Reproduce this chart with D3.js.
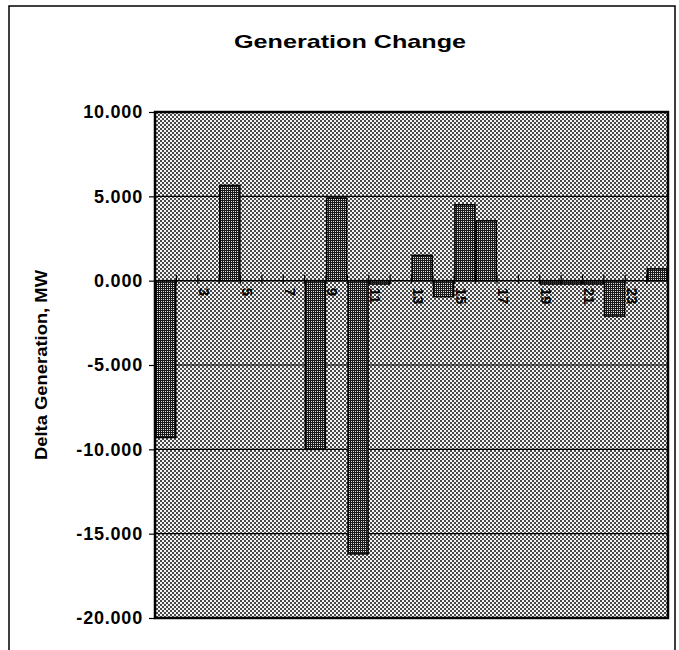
<!DOCTYPE html>
<html>
<head>
<meta charset="utf-8">
<script src="https://cdn.jsdelivr.net/npm/d3@7"></script>
<style>
  body { margin: 0; background: #fff; }
  svg { display: block; font-family: "Liberation Sans", Arial, sans-serif; }
</style>
</head>
<body>
<div id="chart"></div>
<script>
// hours 1..24
const hours = d3.range(1, 25);
const deltaMW = [-9.3, 0, 0, 5.65, 0, 0, 0, -10.0, 4.9, -16.2, -0.2, 0,
                 1.5, -0.95, 4.5, 3.55, 0, 0, -0.2, -0.2, -0.2, -2.1, 0, 0.7];
const yTicks = [10, 5, 0, -5, -10, -15, -20];
const xLabels = hours.filter(h => h % 2 === 1);

const width = 679, height = 650;
const plot = { left: 155, right: 668, top: 112, bottom: 618 };

const svg = d3.select("#chart").append("svg")
    .attr("width", width)
    .attr("height", height);

const defs = svg.append("defs");

// halftone checker for the plot area
const bg = defs.append("pattern")
    .attr("id", "bgPat")
    .attr("patternUnits", "userSpaceOnUse")
    .attr("width", 4).attr("height", 4);
bg.append("rect").attr("width", 4).attr("height", 4).attr("fill", "#f4f4f4");
bg.append("rect").attr("width", 2).attr("height", 2).attr("fill", "#4a4a4a");
bg.append("rect").attr("x", 2).attr("y", 2).attr("width", 2).attr("height", 2).attr("fill", "#4a4a4a");

// darker pattern for bars
const bp = defs.append("pattern")
    .attr("id", "barPat")
    .attr("patternUnits", "userSpaceOnUse")
    .attr("width", 2).attr("height", 2);
bp.append("rect").attr("width", 2).attr("height", 2).attr("fill", "#1a1a1a");
bp.append("rect").attr("x", 1).attr("y", 1).attr("width", 1).attr("height", 1).attr("fill", "#e0e0e0");

// outer frame
svg.append("rect")
    .attr("x", 9).attr("y", 6)
    .attr("width", 666).attr("height", 660)
    .attr("fill", "none")
    .attr("stroke", "#000")
    .attr("stroke-width", 1.5);

const x = d3.scaleBand()
    .domain(hours)
    .range([plot.left, plot.right])
    .paddingInner(0.06)
    .paddingOuter(0.03);

const y = d3.scaleLinear()
    .domain([-20, 10])
    .range([plot.bottom, plot.top]);

// plot background
svg.append("rect")
    .attr("x", plot.left).attr("y", plot.top)
    .attr("width", plot.right - plot.left)
    .attr("height", plot.bottom - plot.top)
    .attr("fill", "url(#bgPat)");

// gridlines
svg.append("g")
    .selectAll("line")
    .data(yTicks.filter(t => t !== 10 && t !== -20 && t !== 0))
    .enter().append("line")
    .attr("x1", plot.left).attr("x2", plot.right)
    .attr("y1", d => y(d)).attr("y2", d => y(d))
    .attr("stroke", "#000")
    .attr("stroke-width", 1.2);

// category labels, rotated (drawn under the bars, as in the original)
svg.append("g")
    .selectAll("text")
    .data(xLabels)
    .enter().append("text")
    .attr("transform", d => "translate(" + (x(d) + x.bandwidth() / 2 - 4) + "," + (y(0) + 7) + ") rotate(90)")
    .attr("dy", "0.35em")
    .attr("font-size", 15)
    .attr("font-weight", "bold")
    .attr("text-anchor", "start")
    .text(d => d);

// bars
svg.append("g")
    .selectAll("rect")
    .data(hours)
    .enter().append("rect")
    .attr("x", d => x(d))
    .attr("width", x.bandwidth())
    .attr("y", (d, i) => y(Math.max(0, deltaMW[i])))
    .attr("height", (d, i) => Math.abs(y(deltaMW[i]) - y(0)))
    .attr("fill", "url(#barPat)")
    .attr("stroke", "#000")
    .attr("stroke-width", (d, i) => deltaMW[i] === 0 ? 0 : 1.5);

// zero axis with ticks at category boundaries
svg.append("line")
    .attr("x1", plot.left).attr("x2", plot.right)
    .attr("y1", y(0)).attr("y2", y(0))
    .attr("stroke", "#000")
    .attr("stroke-width", 1.5);

svg.append("g")
    .selectAll("line")
    .data(hours.slice(1))
    .enter().append("line")
    .attr("x1", d => x(d) - x.step() * x.paddingInner() / 2)
    .attr("x2", d => x(d) - x.step() * x.paddingInner() / 2)
    .attr("y1", y(0) - 6)
    .attr("y2", y(0) + 3)
    .attr("stroke", "#000")
    .attr("stroke-width", 1.2);

// y axis
const yAxis = svg.append("g")
    .attr("transform", "translate(" + plot.left + ",0)")
    .call(d3.axisLeft(y).tickValues(yTicks).tickSize(6).tickPadding(6)
        .tickFormat(d => d3.format(".3f")(d).replace("\u2212", "-")));
yAxis.select(".domain").remove();
yAxis.selectAll("line").attr("stroke", "#000").attr("stroke-width", 1.2);
yAxis.selectAll("text")
    .attr("font-family", "'Liberation Sans', Arial, sans-serif")
    .attr("font-size", 18)
    .attr("font-weight", "bold")
    .attr("letter-spacing", 0.8)
    .attr("fill", "#000");

// plot border
svg.append("rect")
    .attr("x", plot.left).attr("y", plot.top)
    .attr("width", plot.right - plot.left)
    .attr("height", plot.bottom - plot.top)
    .attr("fill", "none")
    .attr("stroke", "#000")
    .attr("stroke-width", 2.5);

// title
svg.append("text")
    .attr("x", 350).attr("y", 48)
    .attr("text-anchor", "middle")
    .attr("font-size", 19)
    .attr("font-weight", "bold")
    .attr("textLength", 232)
    .attr("lengthAdjust", "spacingAndGlyphs")
    .text("Generation Change");

// y title
svg.append("text")
    .attr("transform", "translate(47," + ((plot.top + plot.bottom) / 2) + ") rotate(-90)")
    .attr("text-anchor", "middle")
    .attr("font-size", 16)
    .attr("font-weight", "bold")
    .attr("textLength", 190)
    .attr("lengthAdjust", "spacingAndGlyphs")
    .text("Delta Generation, MW");
</script>
</body>
</html>
